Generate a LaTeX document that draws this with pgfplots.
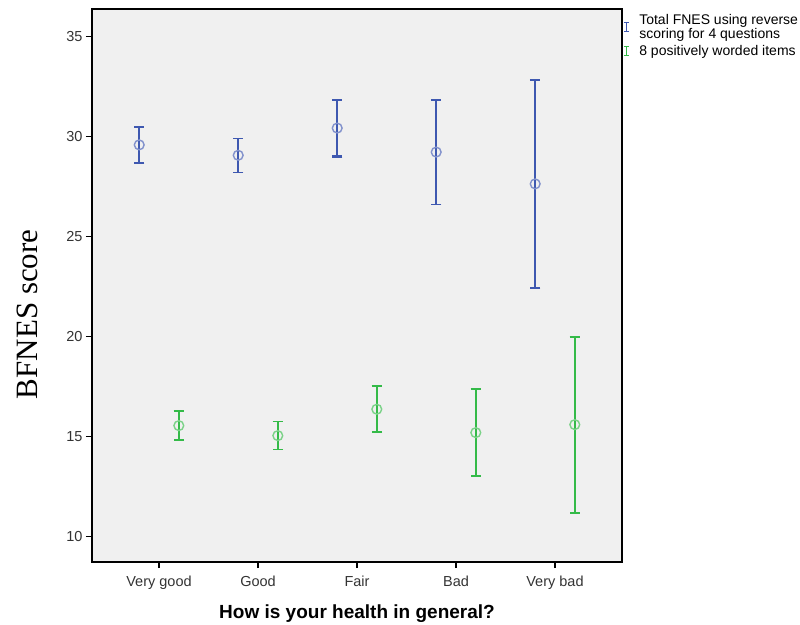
\documentclass[border=0pt]{standalone}
\usepackage{pgfplots}
\pgfplotsset{compat=1.18}
\usepackage{fontspec}
\setmainfont{Liberation Sans}
\newfontfamily\seriffont{Liberation Serif}

\definecolor{fnesblue}{RGB}{62,88,176}
\definecolor{fnesgreen}{RGB}{52,186,72}
\definecolor{panel}{RGB}{240,240,240}

% mean, upper and lower half-widths of the 95% CI per health category
% blue series sits at i-0.2, green series at i+0.2
\pgfplotstableread{
x     y      ep    em
-0.2  29.58  0.89  0.91
1.8   30.42  1.41  1.42
3.8   27.63  5.19  5.21
}\tabBlueA
\pgfplotstableread{
x     y      ep    em
0.8   29.06  0.83  0.87
2.8   29.22  2.61  2.62
}\tabBlueB
\pgfplotstableread{
x     y      ep    em
0.2   15.55  0.73  0.73
2.2   16.37  1.16  1.15
4.2   15.60  4.38  4.41
}\tabGreenA
\pgfplotstableread{
x     y      ep    em
1.2   15.05  0.70  0.70
3.2   15.20  2.17  2.17
}\tabGreenB

\pgfplotsset{
  cibar/.style n args={2}{
    color=#1, only marks, mark=o, mark size=4.9pt,
    mark options={draw=#1!65!white, line width=1.4pt, fill=none},
    error bars/.cd, y dir=both, y explicit,
    error bar style={draw=#1, line width=#2},
    error mark options={draw=#1, rotate=90, mark size=5.2pt, line width=#2},
    /pgfplots/.cd,
  },
}

\begin{document}
\begin{tikzpicture}
\begin{axis}[
  at={(0,0)}, anchor=south west,
  scale only axis, width=530pt, height=553pt,
  xmin=-0.677, xmax=4.677, ymin=8.735, ymax=36.37,
  xtick={0,1,2,3,4},
  xticklabels={Very good, Good, Fair, Bad, Very bad},
  ytick={10,15,20,25,30,35},
  xtick pos=bottom, ytick pos=left,
  tick align=outside, major tick length=6pt,
  major tick style={black, line width=1.2pt},
  axis line style={black, line width=1.3pt},
  axis background/.style={fill=panel},
  tick label style={font=\fontsize{14.5}{16}\selectfont, text=black!80},
  xticklabel style={yshift=-4pt},
  /pgf/number format/assume math mode=true,
  xlabel={How is your health in general?},
  xlabel style={font=\bfseries\fontsize{19}{21}\selectfont,
    at={(axis description cs:0.5,-0.094)}, anchor=center},
  ylabel={BFNES score},
  ylabel style={font=\seriffont\fontsize{31}{34}\selectfont,
    at={(axis description cs:-0.1226,0.448)}, anchor=center},
  legend style={at={(1,1)}, anchor=north west, xshift=1pt, yshift=-4pt,
    draw=none, fill=none, inner sep=0pt, row sep=3pt, column sep=9pt,
    font=\fontsize{14}{14.5}\selectfont,
    nodes={align=left, inner sep=1pt}},
  legend cell align=left,
  clip=false,
]
\addplot[forget plot, cibar={fnesblue}{2.3pt}]
  table[x=x, y=y, y error plus=ep, y error minus=em] {\tabBlueA};
\addplot[forget plot, cibar={fnesblue}{1.5pt}]
  table[x=x, y=y, y error plus=ep, y error minus=em] {\tabBlueB};
\addplot[forget plot, cibar={fnesgreen}{2.3pt}]
  table[x=x, y=y, y error plus=ep, y error minus=em] {\tabGreenA};
\addplot[forget plot, cibar={fnesgreen}{1.6pt}]
  table[x=x, y=y, y error plus=ep, y error minus=em] {\tabGreenB};

\addlegendimage{legend image code/.code={
  \draw[fnesblue, line width=1.1pt] (0pt,-4.5pt)--(0pt,4.5pt)
    (-2.5pt,-4.5pt)--(2.5pt,-4.5pt) (-2.5pt,4.5pt)--(2.5pt,4.5pt);}}
\addlegendentry{Total FNES using reverse\\scoring for 4 questions}
\addlegendimage{legend image code/.code={
  \draw[fnesgreen, line width=1.1pt] (0pt,-4.5pt)--(0pt,4.5pt)
    (-2.5pt,-4.5pt)--(2.5pt,-4.5pt) (-2.5pt,4.5pt)--(2.5pt,4.5pt);}}
\addlegendentry{8 positively worded items}
\end{axis}
\pgfresetboundingbox
\useasboundingbox (-92pt,-62pt) rectangle (708pt,562pt);
\end{tikzpicture}
\end{document}
